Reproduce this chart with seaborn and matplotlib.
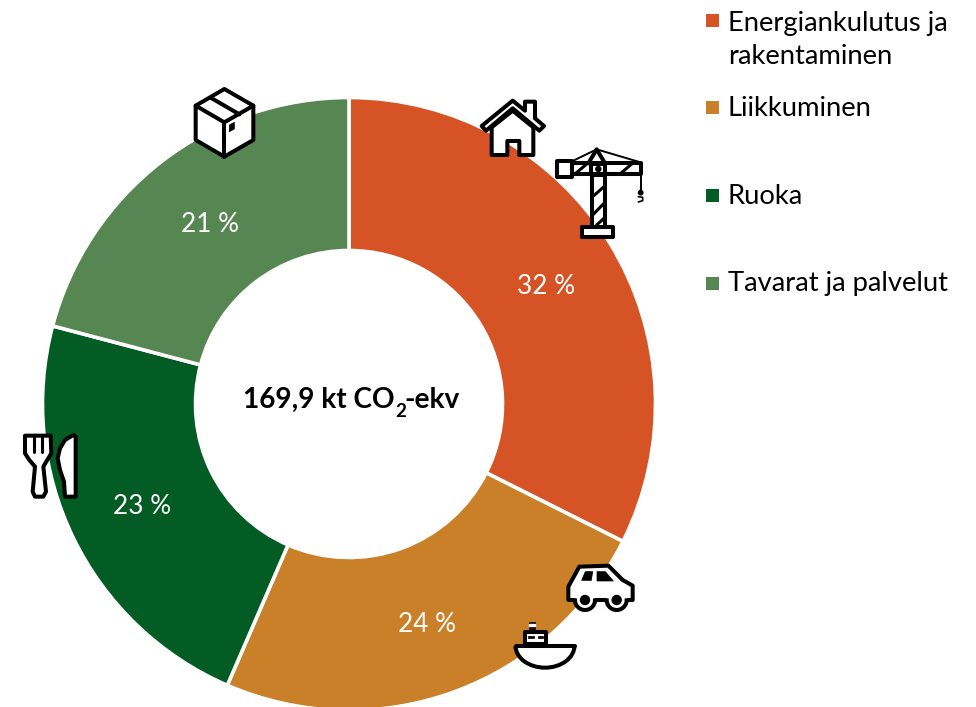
import matplotlib
matplotlib.use("Agg")
import matplotlib.pyplot as plt
import seaborn as sns
from matplotlib.patches import Polygon, Rectangle, Circle, Ellipse, Arc

categories = ["Energiankulutus ja\nrakentaminen", "Liikkuminen", "Ruoka", "Tavarat ja palvelut"]
shares = [32.4, 24.1, 22.6, 20.9]
share_labels = ["32 %", "24 %", "23 %", "21 %"]
colors = ["#D55325", "#C98029", "#035C23", "#568752"]
total_parts = ["169,9 kt CO", "2", "-ekv"]

W, H = 976, 707
CX, CY, R = 349, 404, 306.5

sns.set_theme(style="white")
plt.rcParams["font.family"] = ["Lato", "DejaVu Sans"]

fig = plt.figure(figsize=(W / 100, H / 100), dpi=100)
ax = fig.add_axes([0, 0, 1, 1])

palette = sns.color_palette(colors)
ax.pie(shares, colors=palette, startangle=90, counterclock=False,
       center=(CX, H - CY), radius=R,
       wedgeprops=dict(width=R - 153.5, edgecolor="white", linewidth=2.6))
ax.set_xlim(0, W)
ax.set_ylim(0, H)
ax.set_aspect("equal")
ax.axis("off")

label_pos = [(546, 286), (427, 624), (142, 507), (210, 225)]
for (x, y), s in zip(label_pos, share_labels):
    ax.text(x, H - y, s, color="white", fontsize=18.8, ha="center", va="center")

# centre text in three pieces, the subscript sits low in the original
ax.text(243, H - 408, total_parts[0], color="black", fontsize=20.2, fontweight="bold",
        ha="left", va="baseline")
ax.text(395, H - 417, total_parts[1], color="black", fontsize=13.5, fontweight="bold",
        ha="left", va="baseline")
ax.text(460, H - 408, total_parts[2], color="black", fontsize=20.2, fontweight="bold",
        ha="right", va="baseline")

# legend, spacing in the original is not even so it is placed by hand
legend_y = [20, 107, 195, 283]
text_y = [40, 108, 196, 284]
for y, ty, c, lab in zip(legend_y, text_y, palette, categories):
    ax.add_patch(Rectangle((705.5, H - y - 6.5), 13, 13, color=c, lw=0))
    ax.text(728, H - ty, lab, color="black", fontsize=19.7, ha="left", va="center", linespacing=1.45)


# icon helpers, points come from the 3x crops of the picture
LW = 2.9


def pts(off, p):
    return [(off[0] + x / 3, H - (off[1] + y / 3)) for x, y in p]


def poly(off, p, fc="white", lw=LW, closed=True):
    ax.add_patch(Polygon(pts(off, p), closed=closed, fc=fc, ec="black", lw=lw,
                         joinstyle="round", zorder=5))


def line(off, p, lw=LW):
    q = pts(off, p)
    ax.plot([a[0] for a in q], [a[1] for a in q], color="black", lw=lw, zorder=6,
            solid_capstyle="round")


# house
off = (470, 90)
poly(off, [(65, 112), (128, 62), (190, 112), (190, 195), (148, 195), (148, 153), (112, 153),
           (112, 195), (65, 195)])
poly(off, [(35, 108), (128, 32), (165, 62), (165, 35), (195, 35), (195, 85), (222, 108), (208, 122),
           (128, 55), (48, 122)])

# crane
poly(off, [(260, 212), (305, 212), (305, 262), (260, 262)])
poly(off, [(305, 220), (512, 220), (512, 253), (305, 253)])
line(off, [(310, 212), (380, 178), (505, 215)], lw=1.4)
line(off, [(355, 220), (380, 178), (405, 220)])
poly(off, [(362, 222), (405, 222), (405, 253), (362, 253)])
ax.add_patch(Circle(pts(off, [(385, 237)])[0], 2.5, color="black", zorder=7))
line(off, [(315, 252), (350, 222)], lw=2.2)
line(off, [(450, 252), (485, 222)], lw=2.2)
poly(off, [(365, 255), (405, 255), (405, 410), (365, 410)])
line(off, [(368, 320), (402, 290)], lw=2.2)
line(off, [(368, 375), (402, 340)], lw=2.2)
line(off, [(380, 405), (402, 385)], lw=2.2)
poly(off, [(335, 410), (428, 410), (428, 442), (335, 442)])
line(off, [(512, 255), (512, 305)], lw=1.4)
ax.add_patch(Circle(pts(off, [(512, 308)])[0], 2.2, color="black", zorder=7))
line(off, [(505, 320), (518, 322), (518, 332), (505, 336)], lw=1.2)

# car
off = (500, 555)
poly(off, [(205, 135), (205, 95), (238, 35), (325, 32), (368, 75), (398, 92), (398, 135), (205, 135)])
for cx in (255, 350):
    c = pts(off, [(cx, 135)])[0]
    ax.add_patch(Circle(c, 10, color="white", zorder=6))
    ax.add_patch(Arc(c, 20, 20, theta1=170, theta2=370, color="black", lw=LW, zorder=7))
    ax.add_patch(Circle(c, 4.5, color="black", zorder=7))
poly(off, [(245, 76), (256, 50), (278, 50), (274, 76)], fc="black", lw=0.5)
poly(off, [(291, 50), (316, 50), (340, 78), (291, 78)], fc="black", lw=0.5)

# boat
poly(off, [(75, 268), (75, 232), (138, 232), (138, 268)])
poly(off, [(88, 202), (105, 202), (105, 222), (88, 222)], fc="black", lw=0.5)
ax.add_patch(Rectangle(pts(off, [(87, 208)])[0], 6, -1.7, color="white", zorder=7))
poly(off, [(85, 242), (103, 242), (103, 250), (85, 250)], fc="black", lw=0.5)
poly(off, [(113, 242), (130, 242), (130, 250), (113, 250)], fc="black", lw=0.5)
hull = Ellipse(pts(off, [(135, 272)])[0], 59, 44, fc="white", ec="black", lw=LW, zorder=5)
ax.add_patch(hull)
hull.set_clip_path(Rectangle(pts(off, [(40, 272)])[0], 70, -30, transform=ax.transData))
line(off, [(48, 272), (225, 272)])

# fork and knife
off = (10, 425)
poly(off, [(45, 32), (122, 32), (124, 85), (110, 108), (100, 125), (108, 200), (100, 215), (75, 215),
           (68, 200), (75, 125), (58, 105), (45, 85)])
line(off, [(71, 32), (71, 80)], lw=2.2)
line(off, [(96, 32), (96, 80)], lw=2.2)
poly(off, [(190, 30), (197, 35), (197, 215), (165, 215), (162, 170), (150, 135), (143, 100), (150, 70),
           (165, 45)])

# box
off = (180, 85)
poly(off, [(133, 12), (220, 62), (220, 165), (133, 215), (47, 165), (47, 62)])
line(off, [(47, 62), (133, 112), (220, 62)])
line(off, [(133, 112), (133, 215)])
line(off, [(92, 38), (178, 88)])
poly(off, [(148, 120), (163, 112), (163, 132), (148, 140)], fc="black", lw=0.5)

fig.savefig("out.png", dpi=100)
